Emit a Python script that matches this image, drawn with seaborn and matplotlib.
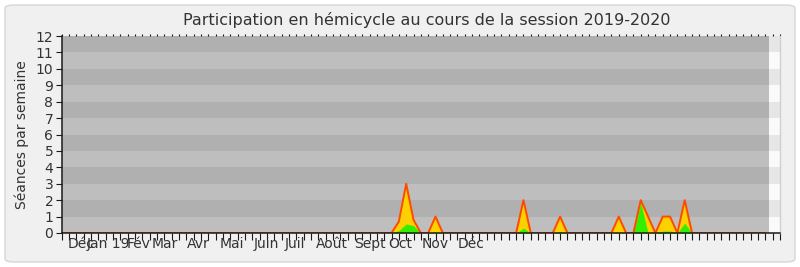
import numpy as np
import pandas as pd
import seaborn as sns
import matplotlib
matplotlib.use("Agg")
import matplotlib.pyplot as plt
from matplotlib.patches import FancyBboxPatch

# ---- data ----
n_weeks = 97                      # weekly points drawn (index 0..96)
active_weeks = [46, 47, 48, 51, 63, 68, 76, 79, 80, 82, 83, 85]
presence     = [0.7, 3.0, 0.8, 1.0, 2.0, 1.0, 1.0, 2.0, 1.0, 1.0, 1.0, 2.0]
interventions = [0.15, 0.55, 0.45, 0.08, 0.3, 0.08, 0.05, 1.85, 0.0, 0.12, 0.12, 0.6]
month_labels = ["Déc", "Jan 19", "Fév", "Mar", "Avr", "Mai", "Juin", "Juil",
                "Août", "Sept", "Oct", "Nov", "Déc"]
month_weeks = [2.6, 6.4, 10.5, 14.1, 18.7, 23.2, 27.9, 31.8, 36.8, 42.0, 46.2, 51.0, 55.8]
y_ticks = list(range(0, 13))
title = "Participation en hémicycle au cours de la session 2019-2020"
ylabel = "Séances par semaine"

weeks = np.arange(n_weeks)
tot = np.zeros(n_weeks)
grn = np.zeros(n_weeks)
tot[active_weeks] = presence
grn[active_weeks] = interventions
df = pd.DataFrame({"week": weeks, "presence": tot, "interventions": grn})

# ---- style ----
sns.set_style("white")
plt.rcParams["font.family"] = ["DejaVu Sans"]
txt = "#333333"

fig = plt.figure(figsize=(8.0, 2.67), dpi=100)
fig.patch.set_facecolor("white")
frame = FancyBboxPatch((5 / 800, 5 / 267), 790 / 800, 257 / 267,
                       boxstyle="round,pad=0,rounding_size=0.012",
                       transform=fig.transFigure, facecolor="#f0f0f0",
                       edgecolor="#d6d6d6", linewidth=1.0, zorder=-10)
fig.patches.append(frame)

ax = fig.add_axes([61.7 / 800, 34 / 267, 718.3 / 800, 197 / 267])
ax.set_facecolor("#f0f0f0")
xmax = 98
ax.set_xlim(0, xmax)
ax.set_ylim(0, 12)

# background bands
gray_end = 96.5
for k in range(12):
    dark = (k % 2 == 1)
    ax.fill_between([0, gray_end], k, k + 1, color="#b0b0b0" if dark else "#bebebe",
                    linewidth=0, zorder=0)
    ax.fill_between([gray_end, xmax], k, k + 1, color="#e6e6e6" if dark else "#fafafa",
                    linewidth=0, zorder=0)

# areas
ax.fill_between(df["week"], 0, df["presence"], color="#ffd000", linewidth=0, zorder=2)
ax.fill_between(df["week"], 0, df["interventions"], color="#33ee00", linewidth=0, zorder=3)
sns.lineplot(data=df, x="week", y="presence", ax=ax, color="#ff4a00",
             linewidth=1.4, zorder=4, legend=False)

# axes / ticks
for s in ["left", "bottom"]:
    ax.spines[s].set_color("#1a1a1a")
    ax.spines[s].set_linewidth(1.1)
    ax.spines[s].set_zorder(6)
ax.spines["top"].set_visible(False)
ax.spines["right"].set_color("#d0d0d0")
ax.spines["right"].set_linewidth(1.0)

ax.set_yticks(y_ticks)
ax.set_yticklabels([str(v) for v in y_ticks], fontsize=10, color=txt)
ax.tick_params(axis="y", left=True, direction="out", length=4, width=0.8,
               color="#1a1a1a", pad=2)

ax.xaxis.remove_overlapping_locs = False
ax.set_xticks(np.arange(0, xmax + 1))
ax.set_xticklabels([])
ax.tick_params(axis="x", which="major", bottom=True, top=True, labeltop=False,
               direction="out", length=5, width=0.8, color="#1a1a1a")
ax.set_xticks(month_weeks, minor=True)
ax.set_xticklabels(month_labels, minor=True, fontsize=10, color=txt)
ax.tick_params(axis="x", which="minor", bottom=True, length=0, pad=3)
for t in ax.xaxis.get_major_ticks():
    t.tick2line.set_markersize(1.5)

ax.set_xlabel("")
ax.set_ylabel(ylabel, fontsize=10, color=txt, labelpad=5)
ax.grid(False)

fig.text(427 / 800, 1 - 20 / 267, title, ha="center", va="center",
         fontsize=11.5, color=txt)

fig.savefig("out.png", dpi=100, facecolor=fig.get_facecolor())
